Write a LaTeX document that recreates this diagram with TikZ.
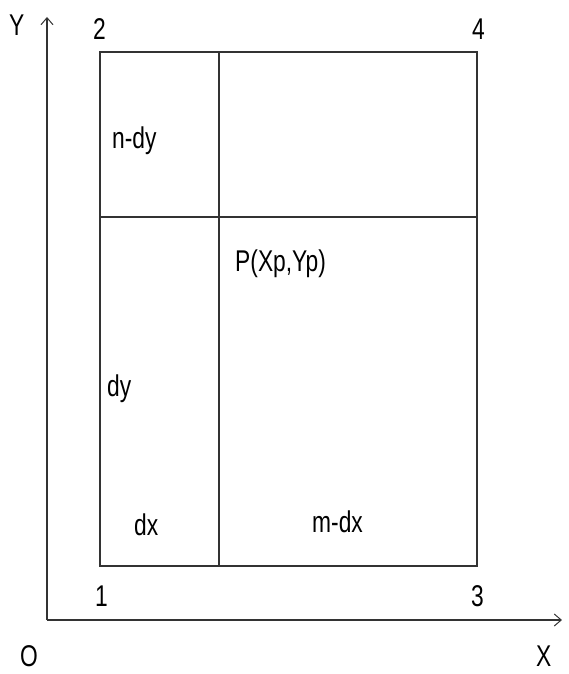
\documentclass[tikz,border=0pt]{standalone}
\usepackage{fontspec}
\setmainfont{Liberation Sans}[FakeStretch=0.76]
\usetikzlibrary{arrows.meta}
\begin{document}
\begin{tikzpicture}[x=1pt,y=-1pt,
  line/.style={line width=1.2pt,black!80},
  lbl/.style={inner sep=0pt,anchor=base west,font=\fontsize{30}{30}\selectfont},
  axis/.style={line width=1.2pt,black!80,-{Straight Barb[length=7pt,width=12pt,line width=1pt]}}]
\useasboundingbox (0,0) rectangle (569,674);
% axes
\coordinate (O) at (47,620);
\coordinate (Ytip) at (47,17);
\coordinate (Xtip) at (562,620);
\draw[axis] (O) -- (Ytip);
\draw[axis] (O) -- (Xtip);
% rectangle
\coordinate (c1) at (100,566);
\coordinate (c2) at (100,52);
\coordinate (c3) at (477,566);
\coordinate (c4) at (477,52);
\coordinate (vt) at (219,52);
\coordinate (vb) at (219,566);
\coordinate (hl) at (100,217);
\coordinate (hr) at (477,217);
\draw[line] (c1) rectangle (c4);
\draw[line] (vt) -- (vb);
\draw[line] (hl) -- (hr);
% labels
\node[lbl] (tY) at (9,36) {Y};
\node[lbl] (t2) at (93,40) {2};
\node[lbl] (t4) at (472,40) {4};
\node[lbl] (tndy) at (112,148) {n-dy};
\node[lbl] (tP) at (235,271) {P(Xp,Yp)};
\node[lbl] (tdy) at (107,396) {dy};
\node[lbl] (tdx) at (134,535) {dx};
\node[lbl] (tmdx) at (312,532) {m-dx};
\node[lbl] (t1) at (95,606) {1};
\node[lbl] (t3) at (471,606) {3};
\node[lbl] (tO) at (20,666) {O};
\node[lbl] (tX) at (536,666) {X};
\end{tikzpicture}
\end{document}
